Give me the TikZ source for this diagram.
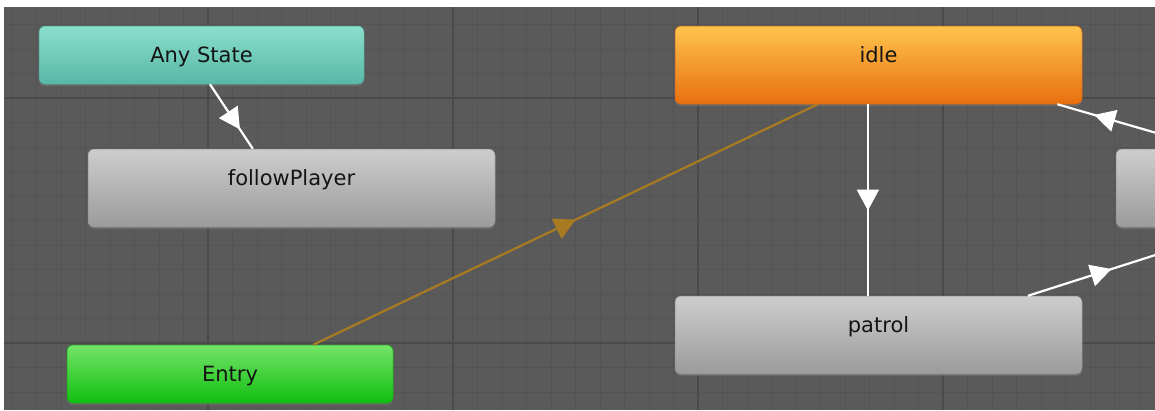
\documentclass[tikz,border=0pt]{standalone}
\usepackage{fontspec}
\setmainfont{DejaVu Sans}
\usetikzlibrary{arrows.meta,decorations.markings,shadows,calc}
\definecolor{bg}{HTML}{5A5A5A}
\definecolor{gridminor}{HTML}{545454}
\definecolor{gridmajor}{HTML}{4A4A4A}
\definecolor{anyT}{HTML}{8ADFCB}
\definecolor{anyB}{HTML}{58B8A6}
\definecolor{grayT}{HTML}{CDCDCD}
\definecolor{grayB}{HTML}{9B9B9B}
\definecolor{idleT}{HTML}{FEC44D}
\definecolor{idleB}{HTML}{E86F0F}
\definecolor{entryT}{HTML}{74E468}
\definecolor{entryB}{HTML}{10BE10}
\definecolor{txt}{HTML}{141414}
\definecolor{edgeO}{HTML}{A87A22}
\begin{document}
\begin{tikzpicture}[x=1pt,y=-1pt,
  minorline/.style={draw=gridminor, line width=1pt},
  majorline/.style={draw=gridmajor, line width=1.3pt},
  base/.style={rectangle, rounded corners=6pt, inner xsep=0pt, inner ysep=0pt,
    text height=36pt, font=\fontsize{21}{24}\selectfont, text=txt, line width=0.5pt,
    drop shadow={opacity=0.45, shadow xshift=0pt, shadow yshift=-2pt}},
  big/.style={base, minimum width=407pt, text depth=42pt},
  small/.style={base, minimum width=325pt, text depth=22pt},
  graystate/.style={top color=grayT, bottom color=grayB, draw=grayB!92!black},
  anystate/.style={top color=anyT, bottom color=anyB, draw=anyB!92!black},
  idlestate/.style={top color=idleT, bottom color=idleB, draw=idleB!92!black},
  entrystate/.style={top color=entryT, bottom color=entryB, draw=entryB!92!black},
  trans/.style n args={2}{line width=2.2pt, draw=#2, postaction={decorate,
    decoration={markings, mark=at position #1 with {\arrow{Triangle[length=21pt,width=22pt,color=#2,fill=#2]}}}}}
]
\useasboundingbox (0,0) rectangle (1155,410);
\fill[white] (0,0) rectangle (1155,410);
\begin{scope}
\clip (4,7) rectangle (1155,410);
\fill[bg] (4,7) rectangle (1155,410);
\foreach \i in {-8,...,38} {\draw[minorline] ({208+24.5*\i},7) -- ({208+24.5*\i},410);}
\foreach \j in {-4,...,13} {\draw[minorline] (4,{98+24.5*\j}) -- (1155,{98+24.5*\j});}
\foreach \x in {208,453,698,943} {\draw[majorline] (\x,7) -- (\x,410);}
\foreach \y in {98,343} {\draw[majorline] (4,\y) -- (1155,\y);}

\node[small, anystate] (any) at (201.5,55) {Any State};
\node[big, graystate] (follow) at (291.5,188) {followPlayer};
\node[big, idlestate] (idle) at (878.5,65) {idle};
\node[big, graystate] (patrol) at (878.5,335) {patrol};
\node[base, minimum width=326pt, text depth=22pt, entrystate] (entry) at (230,374) {Entry};
\node[big, graystate] (rnode) at (1319.5,188) {};

\draw[trans={0.7}{white}] ($(any.south west)!0.526!(any.south east)$) -- ($(follow.north west)!0.405!(follow.north east)$);
\draw[trans={0.52}{edgeO}] ($(entry.north west)!0.755!(entry.north east)$) -- ($(idle.south west)!0.351!(idle.south east)$);
\draw[trans={0.555}{white}] ($(idle.south west)!0.474!(idle.south east)$) -- ($(patrol.north west)!0.474!(patrol.north east)$);
\draw[trans={0.76}{white}] ($(rnode.north west)!0.233!(rnode.north east)$) -- ($(idle.south west)!0.939!(idle.south east)$);
\draw[trans={0.39}{white}] ($(patrol.north west)!0.867!(patrol.north east)$) -- ($(rnode.south west)!0.31!(rnode.south east)$);
\end{scope}
\end{tikzpicture}
\end{document}
